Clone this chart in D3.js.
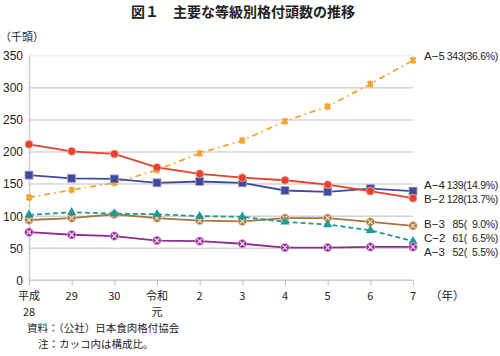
<!DOCTYPE html>
<html><head><meta charset="utf-8">
<script src="https://cdn.jsdelivr.net/npm/d3@7/dist/d3.min.js"></script>
<style>body{margin:0;background:#fff}svg{display:block}text{font-family:"Noto Sans CJK JP","Noto Sans",sans-serif;fill:#222}</style>
</head><body>
<svg id="c" width="500" height="356"></svg>
<script>
const categories = ["平成\n28","29","30","令和\n元","2","3","4","5","6","7"];
const yTicks = [0,50,100,150,200,250,300,350];
const seriesNames = ["A-5","A-4","B-2","B-3","C-2","A-3"];
const a5 = [129,141,152,172,198,218,248,271,306,343];
const a4 = [164,159,158,152,154,152,140,138,143,139];
const b2 = [212,201,197,176,166,160,156,149,139,128];
const b3 = [94,97,103,97,93,92,97,97,91,85];
const c2 = [102,106,104,103,100,99,91,87,78,61];
const a3 = [75,71,69,62,61,57,51,51,52,52];
const endLabels = ["343(36.6%)","139(14.9%)","128(13.7%)","85(  9.0%)","61(  6.5%)","52(  5.5%)"];

const svg = d3.select("#c");
const x = d3.scalePoint().domain(d3.range(categories.length)).range([29,413]);
const y = d3.scaleLinear().domain([0,350]).range([280.3,55.8]);

svg.append("text").attr("x",243).attr("y",17).attr("text-anchor","middle")
  .style("font-size","14px").style("font-weight","bold").text("図１　主要な等級別格付頭数の推移");
svg.append("text").attr("x",0).attr("y",41).style("font-size","11px").text("（千頭）");

// grid
svg.append("g").selectAll("line").data(yTicks.filter(d=>d>0)).join("line")
  .attr("x1",29).attr("x2",413).attr("y1",d=>y(d)).attr("y2",d=>y(d))
  .attr("stroke",d=>d===350?"#eeeeee":"#d4d4d4").attr("stroke-width",1.5);
// y axis
const ya = svg.append("g").attr("transform","translate(29,0)").call(d3.axisLeft(y).tickValues(yTicks).tickSize(0).tickPadding(6));
ya.select(".domain").attr("stroke","#cccccc").attr("stroke-width",1.5);
ya.selectAll("text").style("font-size","12px").style("fill","#222").style("font-family","'Liberation Sans',Arial,sans-serif");
// x axis
const xa = svg.append("g").attr("transform",`translate(0,${y(0)})`).call(d3.axisBottom(x).tickSize(5).tickFormat(""));
xa.select(".domain").attr("stroke","#cccccc").attr("stroke-width",1.5).attr("d","M29,0H413");
xa.selectAll(".tick line").attr("stroke","#bbbbbb");
categories.forEach((c,i)=>{
  const lines=c.split("\n");
  lines.forEach((l,j)=>{
    svg.append("text").attr("x",x(i)).attr("y",300+j*15.5).attr("text-anchor","middle")
      .style("font-size","11px").text(l);
  });
});
svg.append("text").attr("x",430).attr("y",300).style("font-size","11.5px").text("（年）");

const series = [
  {name:"A-5",data:a5,color:"#F2A531",dash:"6,4,1.5,4",marker:"diamond",lab:60},
  {name:"A-4",data:a4,color:"#3E4A9E",dash:null,marker:"square",lab:189},
  {name:"B-2",data:b2,color:"#E5412C",dash:null,marker:"circle",lab:203},
  {name:"B-3",data:b3,color:"#A47444",dash:null,marker:"xcircle",lab:228},
  {name:"C-2",data:c2,color:"#1F9995",dash:"5,3",marker:"triangle",lab:242},
  {name:"A-3",data:a3,color:"#8E2D8E",dash:null,marker:"xcircle2",lab:256}
];
const line = d3.line().x((d,i)=>x(i)).y(d=>y(d));
series.forEach((s,k)=>{
  const g = svg.append("g");
  g.append("path").attr("d",line(s.data)).attr("fill","none").attr("stroke",s.color)
    .attr("stroke-width",1.8).attr("stroke-dasharray",s.dash);
  s.data.forEach((v,i)=>{
    const cx=x(i), cy=y(v);
    if(s.marker==="circle"){
      g.append("circle").attr("cx",cx).attr("cy",cy).attr("r",4).attr("fill",s.color).attr("stroke","#f6b0a6").attr("stroke-width",0.8);
    } else if(s.marker==="square"){
      g.append("rect").attr("x",cx-4).attr("y",cy-4).attr("width",8).attr("height",8).attr("fill",s.color).attr("stroke","#aab").attr("stroke-width",0.8);
    } else if(s.marker==="diamond"){
      g.append("path").attr("d",d3.symbol(d3.symbolCross,30)()).attr("transform",`translate(${cx},${cy}) rotate(45)`).attr("fill",s.color);
      g.append("path").attr("d",d3.symbol(d3.symbolDiamond,20)()).attr("transform",`translate(${cx},${cy})`).attr("fill",s.color);
    } else if(s.marker==="triangle"){
      g.append("path").attr("d",d3.symbol(d3.symbolTriangle,36)()).attr("transform",`translate(${cx},${cy})`).attr("fill",s.color);
    } else {
      const r=4.2;
      g.append("circle").attr("cx",cx).attr("cy",cy).attr("r",r).attr("fill",s.color).attr("stroke", s.marker==="xcircle"?"#e8c9a8":"#e5a8e5").attr("stroke-width",0.8);
      const d=2.3;
      g.append("path").attr("d",`M${cx-d},${cy-d}L${cx+d},${cy+d}M${cx-d},${cy+d}L${cx+d},${cy-d}`)
        .attr("stroke", s.marker==="xcircle"?"#f1d9b8":"#f5d5f5").attr("stroke-width",1.3);
    }
  });
  svg.append("text").attr("x",424).attr("y",s.lab).style("font-size","11.5px").style("font-family","'Liberation Sans',Arial,sans-serif").text(s.name.replace("-","−"));
  svg.append("text").attr("x",498).attr("y",s.lab).attr("text-anchor","end").style("font-size","10.5px").style("font-family","'Liberation Sans',Arial,sans-serif").style("letter-spacing","-0.3px").attr("xml:space","preserve").text(endLabels[k]);
});

svg.append("text").attr("x",27).attr("y",332).style("font-size","10.5px").text("資料：（公社）日本食肉格付協会");
svg.append("text").attr("x",38).attr("y",348).style("font-size","10.5px").text("注：カッコ内は構成比。");
</script>
</body></html>
